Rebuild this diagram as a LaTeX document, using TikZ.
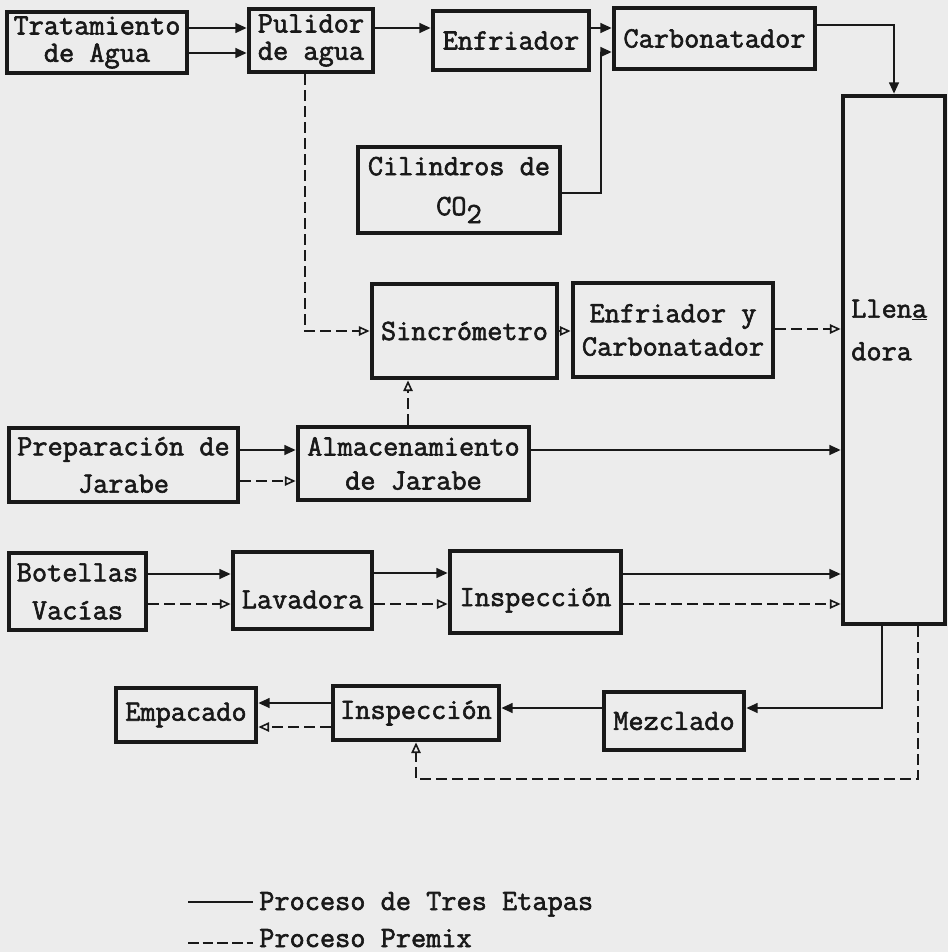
\documentclass[tikz,border=0pt]{standalone}
\usepackage{fontspec}
\setmainfont{Latin Modern Mono}[FakeBold=2]
\usetikzlibrary{arrows.meta}
\definecolor{paper}{RGB}{236,236,236}
\definecolor{ink}{RGB}{25,25,25}
\newcommand\bx[7]{\node[box, minimum width={(#4-#2)*0.75pt}, minimum height={(#5-#3)*0.75pt}, #6] (#1) at ({(#2+#4)/2},{(#3+#5)/2}) {#7};}
\begin{document}
\begin{tikzpicture}[x=0.75pt,y=-0.75pt,
  font=\fontsize{22.1pt}{19pt}\selectfont,
  box/.style={draw=ink, line width=3.6pt, inner sep=0pt, align=center, text=ink},
  txt/.style={text=ink, inner sep=0pt},
  sol/.style={draw=ink, line width=1.2pt, -{Triangle[length=8.5pt,width=7.5pt]}},
  dsh/.style={draw=ink, line width=1.2pt, dash pattern=on 8pt off 4pt, -{Triangle[open,length=8pt,width=7pt]}},
  plain/.style={draw=ink, line width=1.2pt},
  pdsh/.style={draw=ink, line width=1.2pt, dash pattern=on 8pt off 3pt}]
\useasboundingbox (0,0) rectangle (948,952);
\fill[paper] (0,0) rectangle (948,952);

% boxes
\bx{trat}{7}{12}{187}{73}{}{Tratamiento\\[1.5pt]de Agua}
\bx{pul}{249}{9}{373}{72}{}{Pulidor\\[1.5pt]de agua}
\bx{enf}{433}{11}{589}{70}{}{Enfriador}
\bx{carb}{614}{8}{815}{69}{}{Carbonatador}
\bx{llen}{843}{96}{945}{624}{}{}
\node[txt, anchor=west, align=left] (lltxt) at (851,330) {Llen\underline{a}\\[13pt]dora};
\bx{co2}{358}{147}{560}{233}{}{Cilindros de\\[11pt]CO\raisebox{-6pt}{2}}
\bx{sinc}{372}{284}{557}{378}{}{Sincrómetro}
\bx{eyc}{573}{283}{773}{377}{}{Enfriador y\\[6pt]Carbonatador}
\bx{prep}{9}{428}{238}{502}{}{Preparación de\\[9pt]Jarabe}
\bx{alm}{298}{427}{529}{500}{}{Almacenamiento\\[6.5pt]de Jarabe}
\bx{bot}{9}{553}{146}{630}{}{Botellas\\[9.5pt]Vacías}
\bx{lav}{233}{552}{372}{629}{text height=27pt}{Lavadora}
\bx{insp}{450}{551}{621}{633}{text height=26pt}{Inspección}
\bx{mez}{604}{692}{744}{750}{}{Mezclado}
\bx{insp2}{333}{686}{499}{740}{}{Inspección}
\bx{emp}{116}{688}{256}{742}{}{Empacado}

% top water line
\draw[sol] (trat.east |- 0,28) -- (pul.west |- 0,28);
\draw[sol] (trat.east |- 0,53) -- (pul.west |- 0,53);
\draw[sol] (pul.east |- 0,28) -- (enf.west |- 0,28);
\draw[sol] (enf.east |- 0,28) -- (carb.west |- 0,28);
\coordinate (j1) at (601,52);
\draw[sol] (co2.east |- 0,193) -| (j1) -- (carb.west |- j1);
\draw[sol] (carb.east |- 0,25) -| (llen.north);

% premix line
\draw[dsh] (pul.south -| 305,0) |- (sinc.west |- 0,331);
\draw[dsh] (sinc.east |- 0,331) -- (eyc.west |- 0,331);
\draw[dsh] (eyc.east |- 0,329) -- (llen.west |- 0,329);
\draw[dsh] (alm.north -| 408,0) -- (sinc.south -| 408,0);

% syrup
\draw[sol] (prep.east |- 0,450) -- (alm.west |- 0,450);
\draw[dsh] (prep.east |- 0,481) -- (alm.west |- 0,481);
\draw[sol] (alm.east |- 0,450) -- (llen.west |- 0,450);

% bottles
\draw[sol] (bot.east |- 0,574) -- (lav.west |- 0,574);
\draw[dsh] (bot.east |- 0,604) -- (lav.west |- 0,604);
\draw[sol] (lav.east |- 0,573) -- (insp.west |- 0,573);
\draw[dsh] (lav.east |- 0,604) -- (insp.west |- 0,604);
\draw[sol] (insp.east |- 0,574) -- (llen.west |- 0,574);
\draw[dsh] (insp.east |- 0,604) -- (llen.west |- 0,604);

% bottom
\draw[sol] (llen.south -| 882,0) |- (mez.east |- 0,708);
\draw[sol] (mez.west |- 0,708) -- (insp2.east |- 0,708);
\coordinate (j2) at (416,779);
\draw[dsh] (llen.south -| 918,0) |- (j2) -- (insp2.south -| j2);
\draw[sol] (insp2.west |- 0,703) -- (emp.east |- 0,703);
\draw[dsh] (insp2.west |- 0,727) -- (emp.east |- 0,727);

% legend
\coordinate (la) at (188,902);
\coordinate (lb) at (253,902);
\draw[plain] (la) -- (lb);
\node[txt, anchor=base west] (leg1) at (259,910) {Proceso de Tres Etapas};
\coordinate (lc) at (188,943);
\coordinate (ld) at (253,943);
\draw[pdsh] (lc) -- (ld);
\node[txt, anchor=base west] (leg2) at (259,947) {Proceso Premix};
\end{tikzpicture}
\end{document}
